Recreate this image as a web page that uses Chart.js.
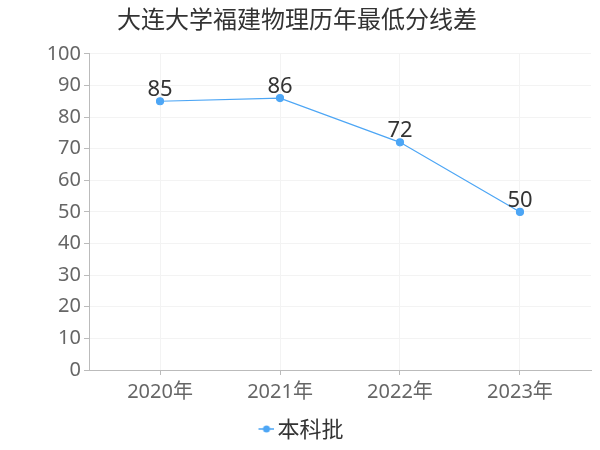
<!DOCTYPE html>
<html><head><meta charset="utf-8">
<script src="https://cdn.jsdelivr.net/npm/chart.js@4"></script>
<style>html,body{margin:0;padding:0;background:#fff}#wrap{width:600px;height:450px}</style>
</head><body><div id="wrap"><canvas id="c"></canvas></div>
<script>
const title = "大连大学福建物理历年最低分线差";
const categories = ["2020年", "2021年", "2022年", "2023年"];
const seriesName = "本科批";
const values = [85, 86, 72, 50];
const yTicks = [0, 10, 20, 30, 40, 50, 60, 70, 80, 90, 100];

const color = "#4da6f5";
const legendIcon = document.createElement("canvas");
legendIcon.width = 32; legendIcon.height = 10;
(function(){const g=legendIcon.getContext("2d");g.strokeStyle=color;g.lineWidth=1.5;g.beginPath();g.moveTo(16,5);g.lineTo(32,5);g.stroke();g.fillStyle=color;g.beginPath();g.arc(24,5,3.5,0,Math.PI*2);g.fill();})();

const labelPlugin = {
  id: "vlabels",
  afterDatasetsDraw(chart) {
    const ctx = chart.ctx;
    const meta = chart.getDatasetMeta(0);
    ctx.save();
    ctx.font = "22px 'Noto Sans'";
    ctx.fillStyle = "#333";
    ctx.textAlign = "center";
    ctx.textBaseline = "alphabetic";
    meta.data.forEach((p, i) => ctx.fillText(String(values[i]), p.x, p.y - 5));
    ctx.restore();
  }
};

new Chart(document.getElementById("c"), {
  type: "line",
  data: { datasets: [{
    label: seriesName, data: values.map((v, i) => ({ x: i, y: v })), borderColor: color, backgroundColor: color,
    borderWidth: 1.2, pointRadius: 3.5, pointHoverRadius: 3.5, tension: 0, pointStyle: "circle"
  }]},
  options: {
    responsive: true, maintainAspectRatio: false, animation: false,
    layout: { padding: { left: 3, right: 9, top: 0, bottom: 0 } },
    plugins: {
      title: { display: true, text: title, color: "#333", font: { size: 24, family: "'Noto Sans CJK SC'", weight: "normal" }, padding: { top: 4, bottom: 21 } },
      legend: { position: "bottom", labels: { usePointStyle: true, pointStyle: legendIcon, pointStyleWidth: 16, color: "#333", font: { size: 22, family: "'Noto Sans CJK SC'" }, padding: 7 } },
      tooltip: { enabled: false }
    },
    scales: {
      x: { type: "linear", min: -0.592, max: 3.592,
           afterBuildTicks(s){ s.ticks = categories.map((c, i) => ({ value: i })); },
           afterFit(s){ s.height = 41; },
           grid: { color: "#f3f3f3", drawTicks: true, tickColor: "#bbb", tickLength: 5 },
           border: { color: "#bbb" },
           ticks: { color: "#666", font: { size: 20, family: "'Noto Sans', 'Noto Sans CJK SC'" }, padding: 5,
                    callback: (v) => categories[v] } },
      y: { min: 0, max: 100, afterBuildTicks(s){ s.ticks = yTicks.map(v=>({value:v})); },
           afterFit(s){ s.width = 86; },
           grid: { color: "#f3f3f3", tickColor: "#bbb", tickLength: 5 },
           border: { color: "#bbb" },
           ticks: { color: "#666", font: { size: 20, family: "'Noto Sans'" }, padding: 3 } }
    }
  },
  plugins: [labelPlugin]
});
</script></body></html>
